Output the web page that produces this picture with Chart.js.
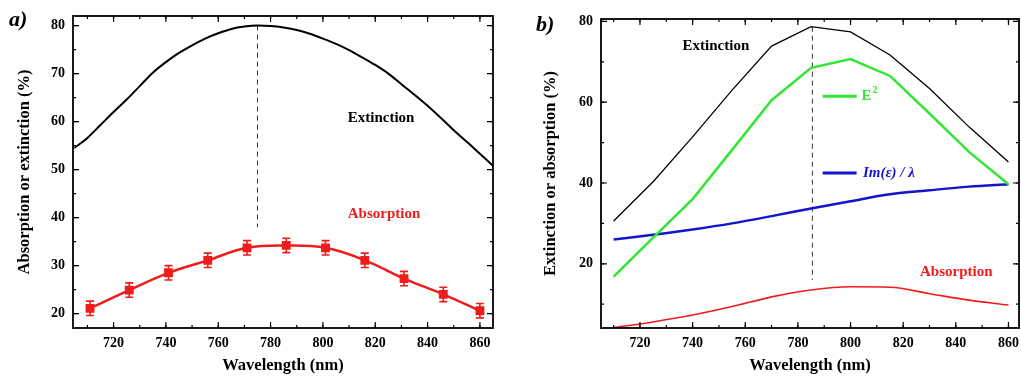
<!DOCTYPE html>
<html>
<head>
<meta charset="utf-8">
<script src="https://cdn.jsdelivr.net/npm/chart.js@4.4.0/dist/chart.umd.min.js"></script>
<style>
  body { margin: 0; background: #fff; width: 1021px; height: 376px; overflow: hidden; position: relative; }
  .panel { position: absolute; top: 0; height: 376px; }
  #wrapA { left: 0; width: 510px; }
  #wrapB { left: 520px; width: 501px; }
  .tag { position: absolute; font: italic bold 22px "Liberation Serif", serif; color: #000; }
</style>
</head>
<body>
<div class="panel" id="wrapA"><canvas id="chartA"></canvas></div>
<div class="panel" id="wrapB"><canvas id="chartB"></canvas></div>
<div class="tag" style="left:9px; top:6px;">a)</div>
<div class="tag" style="left:536px; top:11px;">b)</div>
<script>
// panel a - measured spectra
const extWavelengthA = [705, 710, 715, 720, 725, 730, 735, 740, 745, 750, 755, 760, 765, 770, 775, 780, 785,
    790, 795, 800, 805, 810, 815, 820, 825, 830, 835, 840, 845, 850, 855, 860, 865];
const extinctionA = [54.5, 56.6, 59.3, 62.0, 64.6, 67.4, 70.2, 72.4, 74.3, 75.9, 77.3, 78.4, 79.3, 79.8, 80.0, 79.9, 79.6,
    79.1, 78.3, 77.3, 76.2, 74.9, 73.4, 71.8, 70.0, 67.8, 65.6, 63.3, 60.8, 58.2, 55.8, 53.3, 50.8];
const absWavelengthA = [711, 726, 741, 756, 771, 786, 801, 816, 831, 846, 860];
const absorptionA = [21.1, 24.9, 28.5, 31.1, 33.7, 34.2, 33.7, 31.1, 27.3, 24.0, 20.6];
const absErrorA = [1.5, 1.5, 1.5, 1.5, 1.5, 1.5, 1.5, 1.5, 1.5, 1.5, 1.5];
const peakA = 775;

// panel b - simulation
const wavelengthB = [710, 725, 740, 755, 770, 785, 800, 815, 830, 845, 860];
const extinctionB = [30.6, 40.3, 51.4, 63.0, 73.9, 78.7, 77.4, 71.7, 63.4, 53.9, 45.2];
const fieldB = [16.8, 26.5, 36.0, 48.2, 60.5, 68.5, 70.7, 66.5, 57.2, 47.7, 39.7];
const imEpsB = [26.0, 27.2, 28.5, 30.0, 31.8, 33.7, 35.5, 37.2, 38.2, 39.1, 39.7];
const absorptionB = [4.2, 5.6, 7.3, 9.4, 11.8, 13.5, 14.3, 14.2, 12.6, 11.0, 9.8];
const peakB = 785.5;

const SERIF = '"Liberation Serif", "Times New Roman", serif';
const RED = '#f01c1c', GREEN = '#33e633', BLUE = '#1414cc';

const pts = (xs, ys) => xs.map((x, i) => ({ x: x, y: ys[i] }));

// box frame + inward ticks on every side (Origin style)
const frameTicks = {
    id: 'frameTicks',
    afterDatasetsDraw(chart, args, opts) {
        const { ctx, chartArea: a, scales: { x, y } } = chart;
        ctx.save();
        ctx.strokeStyle = '#000';
        ctx.lineWidth = 1.2;
        const values = (scale, step) => {
            const out = [];
            for (let v = Math.ceil(scale.min / step - 1e-9) * step; v <= scale.max + 1e-9; v += step) out.push(v);
            return out;
        };
        const draw = (scale, step, len) => {
            values(scale, step).forEach(v => {
                const p = scale.getPixelForValue(v);
                ctx.beginPath();
                if (scale.isHorizontal()) {
                    ctx.moveTo(p, a.bottom); ctx.lineTo(p, a.bottom - len);
                    ctx.moveTo(p, a.top); ctx.lineTo(p, a.top + len);
                } else {
                    ctx.moveTo(a.left, p); ctx.lineTo(a.left + len, p);
                    ctx.moveTo(a.right, p); ctx.lineTo(a.right - len, p);
                }
                ctx.stroke();
            });
        };
        draw(x, opts.xMajor, 6); draw(x, opts.xMinor, 3);
        draw(y, opts.yMajor, 6); draw(y, opts.yMinor, 3);
        ctx.lineWidth = 1.8;
        ctx.strokeRect(a.left, a.top, a.right - a.left, a.bottom - a.top);
        ctx.restore();
    }
};

// error bars for datasets carrying an "errors" array
const errorBars = {
    id: 'errorBars',
    afterDatasetsDraw(chart) {
        const { ctx, scales: { x, y } } = chart;
        chart.data.datasets.forEach(ds => {
            if (!ds.errors) return;
            ctx.save();
            ctx.strokeStyle = ds.borderColor;
            ctx.lineWidth = 1.6;
            ds.data.forEach((d, i) => {
                const px = x.getPixelForValue(d.x);
                const top = y.getPixelForValue(d.y + ds.errors[i]);
                const bot = y.getPixelForValue(d.y - ds.errors[i]);
                ctx.beginPath();
                ctx.moveTo(px, top); ctx.lineTo(px, bot);
                ctx.moveTo(px - 4, top); ctx.lineTo(px + 4, top);
                ctx.moveTo(px - 4, bot); ctx.lineTo(px + 4, bot);
                ctx.stroke();
            });
            ctx.restore();
        });
    }
};

// text labels and legend keys placed in data coordinates
const notes = {
    id: 'notes',
    afterDatasetsDraw(chart, args, opts) {
        const { ctx, scales: { x, y } } = chart;
        ctx.save();
        ctx.textBaseline = 'middle';
        (opts.keys || []).forEach(k => {
            ctx.strokeStyle = k.color;
            ctx.lineWidth = 3;
            ctx.beginPath();
            ctx.moveTo(x.getPixelForValue(k.x1), y.getPixelForValue(k.y));
            ctx.lineTo(x.getPixelForValue(k.x2), y.getPixelForValue(k.y));
            ctx.stroke();
        });
        (opts.labels || []).forEach(l => {
            ctx.fillStyle = l.color;
            ctx.font = (l.italic ? 'italic ' : '') + 'bold 15px ' + SERIF;
            const px = x.getPixelForValue(l.x), py = y.getPixelForValue(l.y);
            ctx.fillText(l.text, px, py);
            if (l.sup) {
                const w = ctx.measureText(l.text).width;
                ctx.font = 'bold 10px ' + SERIF;
                ctx.fillText(l.sup, px + w + 1, py - 6);
            }
        });
        ctx.restore();
    }
};

function axes(xr, yr, yWidth, yTitle, yTitlePad) {
    const tickFont = { family: SERIF, size: 14, weight: 'bold' };
    const titleFont = { family: SERIF, size: 16.5, weight: 'bold' };
    return {
        x: {
            type: 'linear', min: xr[0], max: xr[1],
            grid: { display: false, drawTicks: false }, border: { display: false },
            ticks: { stepSize: 20, includeBounds: false, color: '#000', font: tickFont, padding: 7, maxRotation: 0 },
            title: { display: true, text: 'Wavelength (nm)', color: '#000', font: titleFont, padding: { top: 0, bottom: 0 } },
            afterFit: s => { s.height = 48; s.paddingLeft = 0; s.paddingRight = 0; }
        },
        y: {
            type: 'linear', min: yr[0], max: yr[1],
            grid: { display: false, drawTicks: false }, border: { display: false },
            ticks: { stepSize: yr[2], includeBounds: false, color: '#000', font: tickFont, padding: 8 },
            title: { display: true, text: yTitle, color: '#000', font: titleFont, padding: { top: yTitlePad, bottom: 0 } },
            afterFit: s => { s.width = yWidth; s.paddingTop = 0; s.paddingBottom = 0; }
        }
    };
}

new Chart(document.getElementById('chartA'), {
    type: 'line',
    data: {
        datasets: [
            {
                data: pts(extWavelengthA, extinctionA), borderColor: '#000', borderWidth: 2,
                pointRadius: 0, cubicInterpolationMode: 'monotone'
            },
            {
                data: pts(absWavelengthA, absorptionA), errors: absErrorA, borderColor: RED, backgroundColor: RED,
                borderWidth: 2.5, pointStyle: 'rect', pointRadius: 4.5, tension: 0.4
            },
            {
                data: [{ x: peakA, y: 80 }, { x: peakA, y: 38 }], borderColor: '#333', borderWidth: 1,
                borderDash: [5, 4], pointRadius: 0
            }
        ]
    },
    options: {
        responsive: true, maintainAspectRatio: false, animation: false,
        layout: { padding: { left: 0, top: 16, right: 17, bottom: 0 } },
        scales: axes([704.5, 865], [17, 82, 10], 73, 'Absorption or extinction (%)', 15),
        plugins: {
            legend: { display: false }, tooltip: { enabled: false },
            frameTicks: { xMajor: 20, xMinor: 10, yMajor: 10, yMinor: 5 },
            notes: {
                labels: [
                    { text: 'Extinction', x: 809.5, y: 60.7, color: '#000' },
                    { text: 'Absorption', x: 809.5, y: 40.8, color: RED }
                ]
            }
        }
    },
    plugins: [errorBars, frameTicks, notes]
});

new Chart(document.getElementById('chartB'), {
    type: 'line',
    data: {
        datasets: [
            { data: pts(wavelengthB, extinctionB), borderColor: '#000', borderWidth: 1.3, pointRadius: 0, tension: 0 },
            { data: pts(wavelengthB, fieldB), borderColor: GREEN, borderWidth: 2.5, pointRadius: 0, tension: 0 },
            { data: pts(wavelengthB, imEpsB), borderColor: BLUE, borderWidth: 2.5, pointRadius: 0, cubicInterpolationMode: 'monotone' },
            { data: pts(wavelengthB, absorptionB), borderColor: RED, borderWidth: 1.6, pointRadius: 0, cubicInterpolationMode: 'monotone' },
            {
                data: [{ x: peakB, y: 78.7 }, { x: peakB, y: 16 }], borderColor: '#333', borderWidth: 1,
                borderDash: [5, 4], pointRadius: 0
            }
        ]
    },
    options: {
        responsive: true, maintainAspectRatio: false, animation: false,
        layout: { padding: { left: 0, top: 19, right: 2, bottom: 0 } },
        scales: axes([705.2, 864], [4.1, 80.6, 20], 81, 'Extinction or absorption (%)', 21),
        plugins: {
            legend: { display: false }, tooltip: { enabled: false },
            frameTicks: { xMajor: 20, xMinor: 10, yMajor: 20, yMinor: 10 },
            notes: {
                keys: [
                    { x1: 789.4, x2: 802.3, y: 61.5, color: GREEN },
                    { x1: 789.4, x2: 802.3, y: 42.5, color: BLUE }
                ],
                labels: [
                    { text: 'Extinction', x: 736.2, y: 73.9, color: '#000' },
                    { text: 'E', sup: '2', x: 804.2, y: 61.5, color: GREEN },
                    { text: 'Im(\u03b5) / \u03bb', x: 804.7, y: 42.5, color: BLUE, italic: true },
                    { text: 'Absorption', x: 826.4, y: 18, color: RED }
                ]
            }
        }
    },
    plugins: [frameTicks, notes]
});
</script>
</body>
</html>
